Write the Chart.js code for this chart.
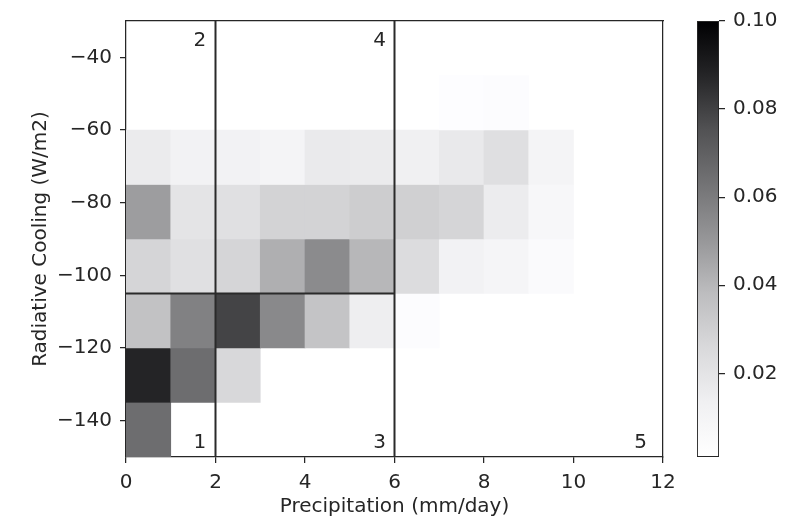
<!DOCTYPE html>
<html>
<head>
<meta charset="utf-8">
<script src="https://cdn.jsdelivr.net/npm/chart.js@4.4.1/dist/chart.umd.min.js"></script>
<style>
  html, body { margin: 0; padding: 0; background: #fff; }
  #wrap { position: relative; width: 809px; height: 517px; }
  #main { position: absolute; left: 0; top: 0; }
  #cbar { position: absolute; left: 690px; top: 0; }
</style>
</head>
<body>
<div id="wrap">
  <canvas id="main" width="809" height="517"></canvas>
  <canvas id="cbar" width="119" height="517"></canvas>
</div>
<script>
/* ── data ── */
const precipEdges = [0, 1, 2, 3, 4, 5, 6, 7, 8, 9, 10, 11];      // left edge of each precip bin (mm/day)
const coolingEdges = [-150, -135, -120, -105, -90, -75, -60];     // lower edge of each cooling bin (W/m2)
const binW = 1, binH = 15;

// fraction of samples per bin, one array per cooling band (bottom to top), null = empty
const band150 = [0.065, null, null, null, null, null, null, null, null, null, null, null];
const band135 = [0.088, 0.065, 0.026, null, null, null, null, null, null, null, null, null];
const band120 = [0.036, 0.058, 0.079, 0.055, 0.035, 0.0145, 0.0035, null, null, null, null, null];
const band105 = [0.0275, 0.022, 0.0275, 0.0426, 0.0544, 0.040, 0.0242, 0.0117, 0.0092, 0.0051, null, null];
const band90  = [0.0483, 0.0198, 0.022, 0.0284, 0.0284, 0.031, 0.0297, 0.0275, 0.0155, 0.0076, null, null];
const band75  = [0.016, 0.0117, 0.0117, 0.010, 0.0166, 0.016, 0.0134, 0.017, 0.0225, 0.010, null, null];
const band60  = [null, null, null, null, null, null, null, 0.0027, 0.0035, null, null, null];
const bands = [band150, band135, band120, band105, band90, band75, band60];

const xTicks = [0, 2, 4, 6, 8, 10, 12];
const yTicks = [-140, -120, -100, -80, -60, -40];
const cbTicks = [0.02, 0.04, 0.06, 0.08, 0.10];
const cbMin = 0.001, cbMax = 0.10;

// regime boundaries and region numbers
const splitX = [2, 6];
const splitY = -105, splitYEnd = 6;
const regionNames = ['1', '2', '3', '4', '5'];
const regionX = [1.79, 1.79, 5.81, 5.81, 11.64];
const regionY = [-147.5, -36.9, -147.5, -36.9, -147.5];

/* ── colormap (matplotlib Greys) ── */
const greysStops = [255, 240, 217, 189, 150, 115, 82, 37, 0];
function greys(t) {
  t = Math.min(1, Math.max(0, t));
  const p = t * (greysStops.length - 1);
  const i = Math.min(Math.floor(p), greysStops.length - 2);
  const g = Math.round(greysStops[i] + (greysStops[i + 1] - greysStops[i]) * (p - i));
  return `rgb(${g},${g},${Math.min(255, g + 2)})`;
}
const norm = v => (v - cbMin) / (cbMax - cbMin);

const INK = '#262626';
const FONT = { family: 'DejaVu Sans', size: 20 };

/* build heatmap cells */
const cells = [];
bands.forEach((band, r) => {
  band.forEach((v, c) => {
    if (v === null) return;
    cells.push({ x: precipEdges[c] + binW / 2, y: [coolingEdges[r], coolingEdges[r] + binH], v });
  });
});

const lineStyle = { type: 'line', borderColor: '#2a2a2a', borderWidth: 2, pointRadius: 0, fill: false, order: 0 };
const splitSets = splitX.map(x => ({ ...lineStyle, data: [{ x, y: -150 }, { x, y: -30 }] }));
splitSets.push({ ...lineStyle, data: [{ x: 0, y: splitY }, { x: splitYEnd, y: splitY }] });

const regionLabels = {
  id: 'regionLabels',
  afterDatasetsDraw(chart) {
    const { ctx, scales: { x, y } } = chart;
    ctx.save();
    ctx.font = `${FONT.size}px ${FONT.family}`;
    ctx.fillStyle = INK;
    ctx.textAlign = 'right';
    ctx.textBaseline = 'alphabetic';
    regionNames.forEach((t, i) => ctx.fillText(t, x.getPixelForValue(regionX[i]), y.getPixelForValue(regionY[i])));
    ctx.restore();
  }
};

const minus = v => String(v).replace('-', '\u2212');
const tickGrid = { display: true, offset: false, drawOnChartArea: false, drawTicks: true, tickLength: 6, color: INK, lineWidth: 1.25 };
const edge = { display: true, color: INK, width: 1.25 };
const frameOnly = { grid: { display: false, drawTicks: false }, ticks: { display: false }, border: edge };

new Chart(document.getElementById('main'), {
  type: 'bar',
  data: {
    datasets: [
      ...splitSets,
      { type: 'bar', data: cells, backgroundColor: cells.map(c => greys(norm(c.v))),
        borderWidth: 0, barPercentage: 1, categoryPercentage: 1, grouped: false, order: 1 }
    ]
  },
  options: {
    responsive: false, animation: false,
    layout: { padding: { top: 21, right: 146, bottom: 0, left: 0 } },
    plugins: { legend: { display: false }, tooltip: { enabled: false } },
    scales: {
      x: { type: 'linear', position: 'bottom', min: 0, max: 12, offset: false, z: 1,
        afterBuildTicks: s => { s.ticks = xTicks.map(value => ({ value })); },
        afterFit: s => { s.height = 60; },
        grid: tickGrid, border: edge,
        ticks: { color: INK, font: FONT, padding: 8, maxRotation: 0, autoSkip: false },
        title: { display: true, text: 'Precipitation (mm/day)', color: INK,
          font: { ...FONT, lineHeight: 1 }, padding: { top: 0, bottom: 0 } } },
      y: { type: 'linear', position: 'left', min: -150, max: -30, z: 1,
        afterBuildTicks: s => { s.ticks = yTicks.map(value => ({ value })); },
        afterFit: s => { s.width = 126; },
        grid: tickGrid, border: edge,
        ticks: { color: INK, font: FONT, padding: 8, callback: minus },
        title: { display: true, text: 'Radiative Cooling (W/m2)', color: INK,
          font: { ...FONT, lineHeight: 1 }, padding: { top: 31, bottom: 0 } } },
      x2: { type: 'linear', position: 'top', min: 0, max: 12, z: 1, ...frameOnly,
        afterFit: s => { s.height = 0; } },
      y2: { type: 'linear', position: 'right', min: -150, max: -30, z: 1, ...frameOnly,
        afterFit: s => { s.width = 0; } }
    }
  },
  plugins: [regionLabels]
});

/* Colorbar */
function cbGradient(c) {
  const ca = c.chart.chartArea;
  if (!ca) return null;
  const g = c.chart.ctx.createLinearGradient(0, ca.bottom, 0, ca.top);
  greysStops.forEach((_, i) => g.addColorStop(i / (greysStops.length - 1), greys(i / (greysStops.length - 1))));
  return g;
}

new Chart(document.getElementById('cbar'), {
  type: 'bar',
  data: { labels: [''], datasets: [{ data: [[cbMin, cbMax]], backgroundColor: cbGradient,
    borderColor: INK, borderWidth: 1.25, borderSkipped: false, barPercentage: 1, categoryPercentage: 1 }] },
  options: {
    responsive: false, animation: false,
    layout: { padding: { top: 21, right: 0, bottom: 60, left: 7 } },
    plugins: { legend: { display: false }, tooltip: { enabled: false } },
    scales: {
      x: { display: false },
      y: { position: 'right', min: cbMin, max: cbMax,
        afterBuildTicks: s => { s.ticks = cbTicks.map(value => ({ value })); },
        afterFit: s => { s.width = 90; },
        grid: tickGrid, border: { display: false },
        ticks: { color: INK, font: FONT, padding: 8, callback: v => v.toFixed(2) } }
    }
  }
});
</script>
</body>
</html>
